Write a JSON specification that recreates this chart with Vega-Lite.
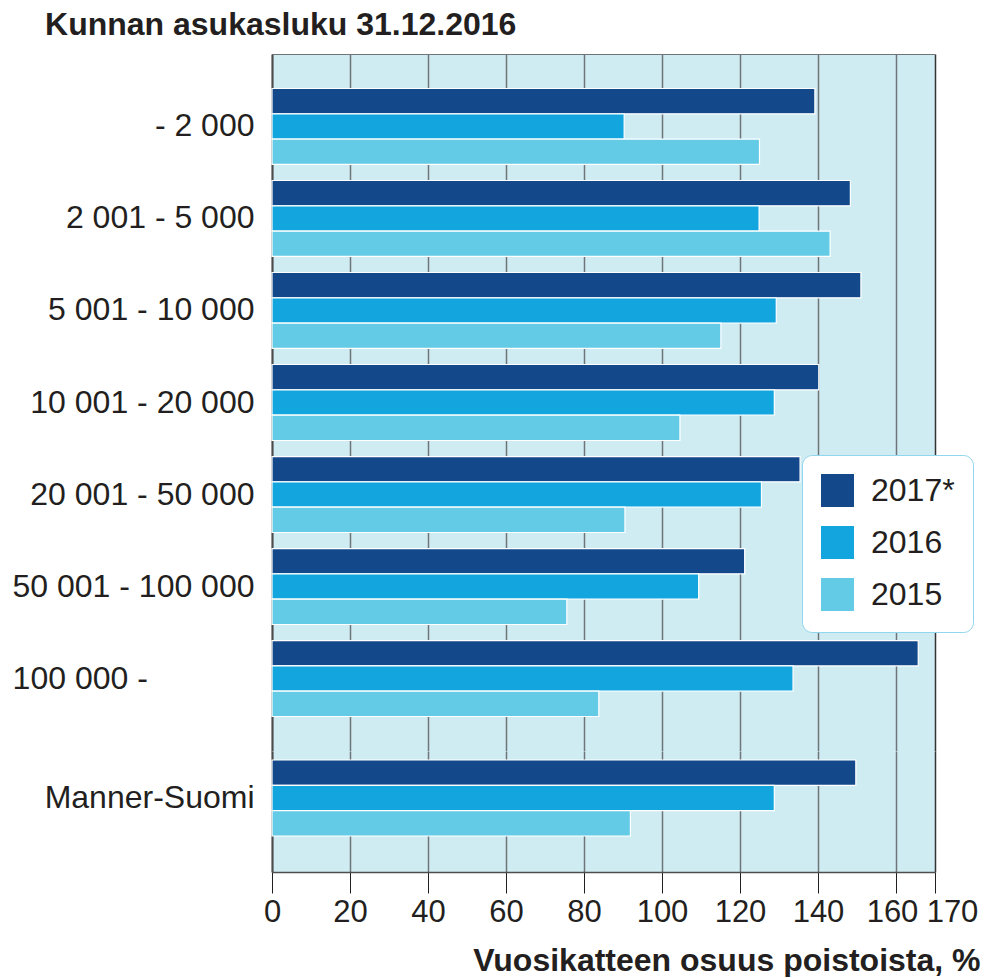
{
  "$schema": "https://vega.github.io/schema/vega-lite/v6.json",
  "padding": {"left": 12, "top": 9, "right": 5, "bottom": 1},
  "background": "white",
  "title": {"text": "Kunnan asukasluku 31.12.2016", "anchor": "start", "dx": 33, "fontSize": 32, "fontWeight": "bold", "font": "Liberation Sans", "color": "#231f20", "offset": 12},
  "config": {"view": {"stroke": null}, "font": "Liberation Sans", "concat": {"spacing": 0}},
  "data": {"values": [
    {"group": "- 2 000", "year": "2017*", "value": 139.2},
    {"group": "- 2 000", "year": "2016", "value": 90.3},
    {"group": "- 2 000", "year": "2015", "value": 125.0},
    {"group": "2 001 - 5 000", "year": "2017*", "value": 148.3},
    {"group": "2 001 - 5 000", "year": "2016", "value": 124.9},
    {"group": "2 001 - 5 000", "year": "2015", "value": 143.1},
    {"group": "5 001 - 10 000", "year": "2017*", "value": 151.0},
    {"group": "5 001 - 10 000", "year": "2016", "value": 129.3},
    {"group": "5 001 - 10 000", "year": "2015", "value": 115.1},
    {"group": "10 001 - 20 000", "year": "2017*", "value": 140.2},
    {"group": "10 001 - 20 000", "year": "2016", "value": 128.8},
    {"group": "10 001 - 20 000", "year": "2015", "value": 104.6},
    {"group": "20 001 - 50 000", "year": "2017*", "value": 135.4},
    {"group": "20 001 - 50 000", "year": "2016", "value": 125.5},
    {"group": "20 001 - 50 000", "year": "2015", "value": 90.5},
    {"group": "50 001 - 100 000", "year": "2017*", "value": 121.2},
    {"group": "50 001 - 100 000", "year": "2016", "value": 109.4},
    {"group": "50 001 - 100 000", "year": "2015", "value": 75.6},
    {"group": "100 000 -", "year": "2017*", "value": 165.7},
    {"group": "100 000 -", "year": "2016", "value": 133.6},
    {"group": "100 000 -", "year": "2015", "value": 83.8},
    {"group": "Manner-Suomi", "year": "2017*", "value": 149.7},
    {"group": "Manner-Suomi", "year": "2016", "value": 128.8},
    {"group": "Manner-Suomi", "year": "2015", "value": 91.9}
  ]},
  "spacing": 0,
  "resolve": {"legend": {"color": "independent"}, "scale": {"y": "independent", "yOffset": "independent"}},
  "vconcat": [
    {
      "width": 663,
      "height": 697,
      "view": {"fill": "#cfecf3", "stroke": null},
      "transform": [{"filter": "datum.group != 'Manner-Suomi'"}],
      "mark": {"type": "bar", "stroke": "white", "strokeWidth": 1.2},
      "encoding": {
        "y": {
          "field": "group", "type": "nominal",
          "sort": ["- 2 000", "2 001 - 5 000", "5 001 - 10 000", "10 001 - 20 000", "20 001 - 50 000", "50 001 - 100 000", "100 000 -"],
          "scale": {"paddingInner": 0.1745, "paddingOuter": 0.3747},
          "axis": {
            "title": null, "ticks": false, "domain": true, "domainColor": "#4d4d4d", "domainWidth": 2,
            "labelFontSize": 32, "labelColor": "#231f20", "labelPadding": 18, "labelLimit": 400,
            "labelExpr": "datum.label == '100 000 -' ? '100 000 -\u00a0\u00a0\u00a0\u00a0\u00a0\u00a0\u00a0\u00a0\u00a0\u00a0\u00a0\u00a0\u200b' : datum.label"
          }
        },
        "yOffset": {"field": "year", "type": "nominal", "sort": ["2017*", "2016", "2015"], "scale": {"paddingInner": 0, "paddingOuter": 0}},
        "x": {
          "field": "value", "type": "quantitative",
          "scale": {"domain": [0, 170], "nice": false},
          "axis": {
            "orient": "top", "labels": false, "ticks": false, "domain": true, "domainColor": "#6e7478", "domainWidth": 1,
            "title": null, "values": [0, 20, 40, 60, 80, 100, 120, 140, 160, 170],
            "grid": true, "gridWidth": 1.5,
            "gridColor": {"condition": {"test": "datum.value == 170", "value": "#333333"}, "value": "#6e7478"}
          }
        },
        "color": {
          "field": "year", "type": "nominal",
          "scale": {"domain": ["2017*", "2016", "2015"], "range": ["#13498a", "#13a6de", "#64cbe7"]},
          "legend": {
            "orient": "none", "legendX": 530, "legendY": 401, "title": null,
            "fillColor": "white", "strokeColor": "#8fd6ee", "cornerRadius": 10,
            "padding": 18, "symbolType": "square", "symbolSize": 1156, "symbolStrokeWidth": 1, "symbolStrokeColor": "#ffffff",
            "labelFontSize": 32, "labelColor": "#231f20", "labelOffset": 16, "rowPadding": 13, "labelLimit": 300
          }
        }
      }
    },
    {
      "width": 663,
      "height": 121,
      "view": {"fill": "#cfecf3", "stroke": null},
      "transform": [{"filter": "datum.group == 'Manner-Suomi'"}],
      "mark": {"type": "bar", "stroke": "white", "strokeWidth": 1.2},
      "encoding": {
        "y": {
          "field": "group", "type": "nominal",
          "scale": {"paddingInner": 0, "paddingOuter": 0.296, "align": 0.2},
          "axis": {
            "title": null, "ticks": false, "domain": true, "domainColor": "#4d4d4d", "domainWidth": 2,
            "labelFontSize": 32, "labelColor": "#231f20", "labelPadding": 18, "labelLimit": 400
          }
        },
        "yOffset": {"field": "year", "type": "nominal", "sort": ["2017*", "2016", "2015"], "scale": {"paddingInner": 0, "paddingOuter": 0}},
        "x": {
          "field": "value", "type": "quantitative",
          "scale": {"domain": [0, 170], "nice": false},
          "axis": {
            "orient": "bottom", "values": [0, 20, 40, 60, 80, 100, 120, 140, 160, 170],
            "labelFontSize": 31, "labelColor": "#231f20", "labelFlush": false, "labelOverlap": false, "labelPadding": 4,
            "labelOffset": {"expr": "datum.value == 170 ? 17 : (datum.value == 160 ? -4 : 0)"},
            "tickSize": 21, "tickColor": "#231f20", "tickWidth": 1,
            "domainColor": "#4d4d4d", "domainWidth": 1.5,
            "grid": true, "gridWidth": 1.5,
            "gridColor": {"condition": {"test": "datum.value == 170", "value": "#333333"}, "value": "#6e7478"},
            "title": "Vuosikatteen osuus poistoista, %", "titleFontSize": 32, "titleFontWeight": "bold", "titleColor": "#231f20",
            "titleX": 708, "titleY": 98, "titleAlign": "right", "titleBaseline": "alphabetic"
          }
        },
        "color": {
          "field": "year", "type": "nominal",
          "scale": {"domain": ["2017*", "2016", "2015"], "range": ["#13498a", "#13a6de", "#64cbe7"]},
          "legend": null
        }
      }
    }
  ]
}
